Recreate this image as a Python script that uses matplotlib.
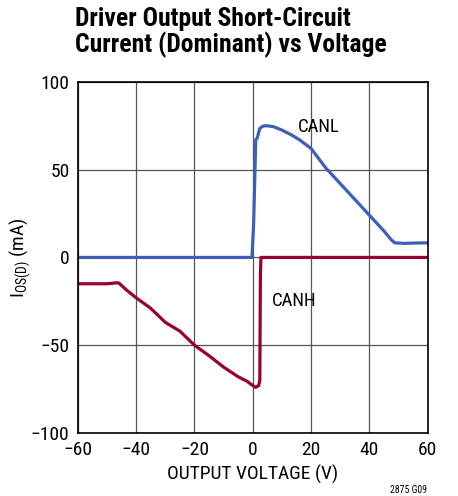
import numpy as np
import matplotlib.pyplot as plt
from matplotlib import font_manager

# values
canl_v = [-60, -0.3, 0.3, 1.0, 1.5, 2.4, 3.5, 4.7, 7, 10, 13, 16, 20, 25, 30, 35, 40, 45, 47.5, 48.7, 52, 56, 60]
canl_i = [0, 0, 20, 67, 68, 73.5, 74.8, 75, 74.5, 72.5, 70, 67, 62, 51, 42, 33, 24, 15, 10, 8.3, 8, 8.2, 8.3]

canh_v = [-60, -50, -47, -46, -43, -40, -35, -30, -25, -20, -15, -10, -5, -2, 0, 1, 2, 2.4, 2.6, 2.8, 60]
canh_i = [-15, -15, -14.5, -14.5, -19, -23, -29, -37, -42, -50, -56, -62.5, -68, -70.5, -73, -74, -73, -70, -10, 0, 0]

xticks = [-60, -40, -20, 0, 20, 40, 60]
yticks = [-100, -50, 0, 50, 100]


def pick_font(names):
    for n in names:
        try:
            font_manager.findfont(n, fallback_to_default=False)
            return n
        except ValueError:
            continue
    return 'DejaVu Sans'


cond = pick_font(['Roboto Condensed', 'Liberation Sans Narrow', 'Roboto', 'Lato'])
plt.rcParams['font.family'] = [cond, 'DejaVu Sans']
plt.rcParams['mathtext.fontset'] = 'custom'
plt.rcParams['mathtext.rm'] = cond
plt.rcParams['mathtext.it'] = cond

fig = plt.figure(figsize=(4.58, 4.96), dpi=100)
ax = fig.add_axes([0.170, 0.127, 0.764, 0.708])

ax.plot(canh_v, canh_i, color='#98002e', lw=2.3, solid_joinstyle='round')
ax.plot(canl_v, canl_i, color='#3d5fb8', lw=2.3, solid_joinstyle='round')

ax.set_xlim(-60, 60)
ax.set_ylim(-100, 100)
ax.set_xticks(xticks)
ax.set_yticks(yticks)
ax.set_xticklabels(['\u221260', '\u221240', '\u221220', '0', '20', '40', '60'])
ax.set_yticklabels(['\u2212100', '\u221250', '0', '50', '100'])
ax.tick_params(length=0, labelsize=14, pad=6)
ax.grid(True, color='#555555', lw=0.9)
ax.set_axisbelow(True)
for s in ax.spines.values():
    s.set_linewidth(1.2)

ax.set_xlabel('OUTPUT VOLTAGE (V)', fontsize=14, labelpad=4)
ax.set_ylabel(r'I$_{\mathrm{OS(D)}}$ (mA)', fontsize=14)
ax.yaxis.set_label_coords(-0.128, 0.5)

ax.text(15.5, 74, 'CANL', fontsize=13.5, ha='left', va='center')
ax.text(6.5, -25, 'CANH', fontsize=13.5, ha='left', va='center')

title = fig.text(0.163, 0.985, 'Driver Output Short-Circuit\nCurrent (Dominant) vs Voltage',
                 fontsize=18, fontweight='bold', ha='left', va='top', linespacing=1.0)
# scale the title so it spans about the same width as in the reference (~312 px)
r = fig.canvas.get_renderer()
w = title.get_window_extent(r).width
title.set_fontsize(18 * 312 / w)

fig.text(0.893, 0.002, '2875 G09', fontsize=7, ha='center', va='bottom')

fig.savefig('out.png', dpi=100)
